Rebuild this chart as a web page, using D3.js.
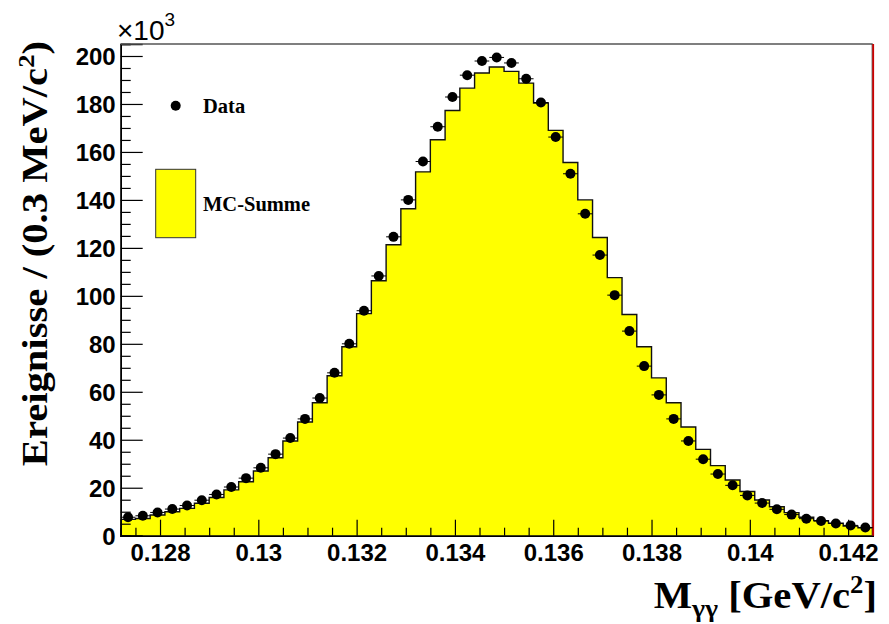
<!DOCTYPE html>
<html>
<head>
<meta charset="utf-8">
<script src="https://cdn.jsdelivr.net/npm/d3@7"></script>
<style>
  html, body { margin: 0; padding: 0; background: #fff; }
  svg { display: block; }
</style>
</head>
<body>
<svg id="chart" width="889" height="624"></svg>
<script>
// Binning of the diphoton invariant mass (GeV/c^2)
const binStart = 0.1272;
const binWidth = 0.0003;

// Entries per bin, in thousands
const dataCounts = [7.7, 8.3, 9.7, 11.1, 12.6, 14.8, 17.2, 20.3, 24.0, 28.3,
  34.0, 40.7, 48.7, 57.4, 67.9, 80.0, 93.8, 108.3, 124.6, 140.0,
  156.0, 170.5, 182.9, 192.0, 197.9, 199.4, 197.1, 190.5, 180.6, 166.2,
  150.9, 134.2, 117.0, 100.3, 85.3, 70.7, 58.7, 48.7, 39.5, 31.9,
  25.7, 21.0, 16.8, 13.6, 11.0, 8.8, 7.1, 6.1, 5.1, 4.3, 3.4];

const mcCounts = [6.8, 7.2, 8.6, 10.0, 11.4, 13.5, 15.9, 19.1, 22.5, 27.0,
  32.5, 39.5, 47.4, 55.4, 66.7, 78.8, 92.6, 106.3, 121.3, 136.3,
  151.7, 165.1, 177.3, 186.6, 192.9, 195.4, 193.6, 188.7, 180.4, 169.0,
  155.6, 140.0, 124.3, 107.6, 92.2, 78.8, 65.8, 55.4, 45.3, 36.0,
  29.2, 23.2, 18.4, 14.9, 12.1, 9.6, 7.7, 6.3, 5.2, 4.0, 3.3];

// Axis ticks
const xMajorTicks = [0.128, 0.130, 0.132, 0.134, 0.136, 0.138, 0.140, 0.142];
const xTickLabels = ["0.128", "0.13", "0.132", "0.134", "0.136", "0.138", "0.14", "0.142"];
const xMinorTicks = [0.1275, 0.1285, 0.129, 0.1295, 0.1305, 0.131, 0.1315, 0.1325, 0.133, 0.1335,
  0.1345, 0.135, 0.1355, 0.1365, 0.137, 0.1375, 0.1385, 0.139, 0.1395, 0.1405, 0.141, 0.1415, 0.1425];
const yMajorTicks = [0, 20, 40, 60, 80, 100, 120, 140, 160, 180, 200];
const yMinorTicks = [5, 10, 15, 25, 30, 35, 45, 50, 55, 65, 70, 75, 85, 90, 95, 105, 110, 115,
  125, 130, 135, 145, 150, 155, 165, 170, 175, 185, 190, 195, 205];

const legendLabels = ["Data", "MC-Summe"];

const xMin = binStart, xMax = binStart + binWidth * dataCounts.length;
const yMax = 205;

const svg = d3.select("#chart");
const L = 120.7, R = 872.7, T = 44, B = 535.7;

const x = d3.scaleLinear().domain([xMin, xMax]).range([L, R]);
const y = d3.scaleLinear().domain([0, yMax]).range([B, T]);

const edge = i => binStart + i * binWidth;
const stepPts = mcCounts.map((v, i) => [edge(i), v]).concat([[edge(mcCounts.length), mcCounts[mcCounts.length - 1]]]);

// MC sum: filled step histogram
svg.append("path")
  .datum(stepPts)
  .attr("fill", "#ffff00")
  .attr("d", d3.area().curve(d3.curveStepAfter).x(d => x(d[0])).y0(y(0)).y1(d => y(d[1])));

svg.append("path")
  .datum(stepPts)
  .attr("fill", "none")
  .attr("stroke", "#111")
  .attr("stroke-width", 1.4)
  .attr("d", d3.line().curve(d3.curveStepAfter).x(d => x(d[0])).y(d => y(d[1])));

// Axes
const fontTick = "'Liberation Sans', Arial, sans-serif";
const fontTitle = "'Liberation Serif', 'Times New Roman', serif";

const xAxis = svg.append("g").attr("transform", `translate(0,${B})`)
  .call(d3.axisBottom(x).tickValues(xMajorTicks).tickSize(-16).tickPadding(8)
    .tickFormat((d, i) => xTickLabels[i]));
const xMinor = svg.append("g").attr("transform", `translate(0,${B})`)
  .call(d3.axisBottom(x).tickValues(xMinorTicks).tickSize(-8).tickFormat(""));

const yAxis = svg.append("g").attr("transform", `translate(${L},0)`)
  .call(d3.axisLeft(y).tickValues(yMajorTicks).tickSize(-22).tickPadding(5));
const yMinor = svg.append("g").attr("transform", `translate(${L},0)`)
  .call(d3.axisLeft(y).tickValues(yMinorTicks).tickSize(-10).tickFormat(""));

[xAxis, xMinor, yAxis, yMinor].forEach(g => {
  g.select(".domain").attr("stroke", "#000").attr("stroke-width", 1.5);
  g.selectAll(".tick line").attr("stroke", "#000").attr("stroke-width", 1.2);
  g.selectAll(".tick text")
    .attr("fill", "#000")
    .style("font-family", fontTick)
    .style("font-weight", "bold")
    .style("font-size", "24px");
});
yAxis.selectAll(".tick text").attr("dy", "0.36em");

// Frame top and right edge
svg.append("line").attr("x1", L).attr("x2", R).attr("y1", T).attr("y2", T)
  .attr("stroke", "#555").attr("stroke-width", 1.5);
svg.append("line").attr("x1", R - 0.5).attr("x2", R - 0.5).attr("y1", T).attr("y2", B)
  .attr("stroke", "#333").attr("stroke-width", 1);
svg.append("line").attr("x1", R + 0.5).attr("x2", R + 0.5).attr("y1", T).attr("y2", B)
  .attr("stroke", "#cc0000").attr("stroke-width", 1.8);

// Data points with horizontal bin-width bars
const pts = svg.append("g");
dataCounts.forEach((v, i) => {
  const cx = edge(i) + binWidth / 2;
  pts.append("line")
    .attr("x1", x(edge(i))).attr("x2", x(edge(i + 1)))
    .attr("y1", y(v)).attr("y2", y(v))
    .attr("stroke", "#000").attr("stroke-width", 1);
  pts.append("circle")
    .attr("cx", x(cx)).attr("cy", y(v)).attr("r", 5)
    .attr("fill", "#000");
});

// Exponent label
const expo = svg.append("text").attr("x", 117).attr("y", 40)
  .style("font-family", fontTick).style("font-size", "28px").attr("fill", "#000");
expo.append("tspan").text("\u00d710");
expo.append("tspan").attr("dy", -14).style("font-size", "19px").text("3");

// Axis titles
const yTitle = svg.append("text")
  .attr("transform", "translate(47,41) rotate(-90) scale(1.16,1)")
  .attr("text-anchor", "end")
  .style("font-family", fontTitle).style("font-weight", "bold").style("font-size", "35px")
  .attr("fill", "#000");
yTitle.append("tspan").text("Ereignisse / (0.3 MeV/c");
yTitle.append("tspan").attr("dy", -13).style("font-size", "23px").text("2");
yTitle.append("tspan").attr("dy", 13).text(")");

const xTitle = svg.append("text")
  .attr("transform", "translate(877,608) scale(1.07,1)")
  .attr("text-anchor", "end")
  .style("font-family", fontTitle).style("font-weight", "bold").style("font-size", "38px")
  .attr("fill", "#000");
xTitle.append("tspan").text("M");
xTitle.append("tspan").attr("dy", 9).style("font-size", "26px").text("\u03b3\u03b3");
xTitle.append("tspan").attr("dy", -9).text(" [GeV/c");
xTitle.append("tspan").attr("dy", -15).style("font-size", "25px").text("2");
xTitle.append("tspan").attr("dy", 15).text("]");

// Legend
const leg = svg.append("g");
leg.append("circle").attr("cx", 175.7).attr("cy", 105.7).attr("r", 5).attr("fill", "#000");
leg.append("rect").attr("x", 155.7).attr("y", 169.3).attr("width", 40).attr("height", 68.4)
  .attr("fill", "#ffff00").attr("stroke", "#333").attr("stroke-width", 1);
leg.selectAll("text.lab").data(legendLabels).enter().append("text")
  .attr("class", "lab")
  .attr("x", 203)
  .attr("y", (d, i) => i === 0 ? 112.7 : 211)
  .style("font-family", fontTitle).style("font-weight", "bold").style("font-size", "20.5px")
  .attr("fill", "#000")
  .text(d => d);
</script>
</body>
</html>
